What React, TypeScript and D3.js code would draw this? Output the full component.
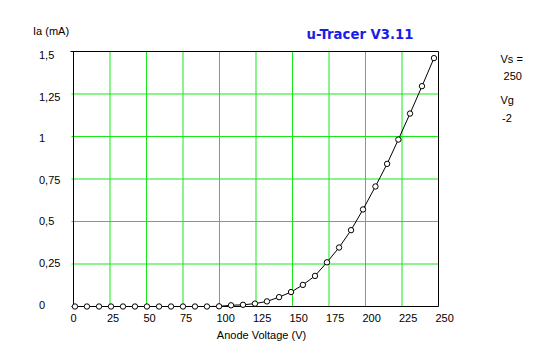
import React from "react";
import * as d3 from "d3";

const anodeVoltage = [
  1.0, 9.2, 17.5, 25.7, 33.9, 42.1, 50.3, 58.6, 66.8, 75.0, 83.2, 91.4, 99.7,
  107.9, 116.1, 124.3, 132.5, 140.8, 149.0, 157.1, 165.4, 173.6, 181.9, 190.1,
  198.3, 206.8, 214.8, 222.5, 230.5, 238.7, 246.9,
];
const anodeCurrent = [
  0, 0, 0, 0, 0, 0, 0, 0, 0, 0, 0, 0, 0.001,
  0.007, 0.01, 0.017, 0.03, 0.055, 0.085, 0.127, 0.18, 0.26, 0.347, 0.449,
  0.571, 0.706, 0.839, 0.982, 1.135, 1.296, 1.461,
];
const xTicks = [0, 25, 50, 75, 100, 125, 150, 175, 200, 225, 250];
const yTicks = [0, 0.25, 0.5, 0.75, 1, 1.25, 1.5];
const yTickLabels = ["0", "0,25", "0,5", "0,75", "1", "1,25", "1,5"];
const title = "u-Tracer V3.11";
const xTitle = "Anode Voltage (V)";
const yTitle = "Ia (mA)";
const sideLabels = ["Vs =", " 250", "Vg", "-2"];

const W = 547;
const H = 357;
const GREEN = "#18e818";
const FONT = "'Liberation Sans', Arial, sans-serif";

export default function App() {
  const x = d3.scaleLinear().domain([0, 250]).range([73.5, 438.5]);
  const y = d3.scaleLinear().domain([0, 1.5]).range([306.5, 51.5]);
  const yLabel = d3.scaleLinear().domain([0, 1.5]).range([308.5, 59]);
  const pts = anodeVoltage.map((v, i) => [v, anodeCurrent[i]] as [number, number]);
  const line = d3
    .line<[number, number]>()
    .x((d) => x(d[0]))
    .y((d) => y(d[1]));

  const sideY = [63, 80, 104, 122];
  const sideX = [500.5, 500.5, 500.5, 502];

  return (
    <svg
      width={W}
      height={H}
      style={{ position: "absolute", left: 0, top: 0, background: "#fff" }}
      fontFamily={FONT}
      fontSize={11}
    >
      <rect x={0} y={0} width={W} height={H} fill="#fff" />
      {/* grid */}
      {xTicks.slice(1, -1).map((t) => (
        <line key={"gx" + t} x1={x(t)} x2={x(t)} y1={y(1.5)} y2={y(0)} stroke={GREEN} strokeWidth={1} />
      ))}
      {yTicks.slice(1, -1).map((t) => (
        <line key={"gy" + t} x1={x(0) - 2} x2={x(250)} y1={y(t)} y2={y(t)} stroke={GREEN} strokeWidth={1} />
      ))}
      {/* frame */}
      <line x1={x(0) - 3} x2={x(250)} y1={y(1.5)} y2={y(1.5)} stroke="#000" />
      <line x1={x(250)} x2={x(250)} y1={y(1.5)} y2={y(0)} stroke="#000" />
      <line x1={x(0)} x2={x(0)} y1={y(1.5)} y2={y(0) + 1} stroke="#000" />
      <line x1={x(0) - 2} x2={x(250)} y1={y(0)} y2={y(0)} stroke="#000" />
      {/* tick labels */}
      {xTicks.map((t) => (
        <text key={"xl" + t} x={x(t) - 3} y={322} fill="#000">
          {t}
        </text>
      ))}
      {yTicks.map((t, i) => (
        <text key={"yl" + t} x={39} y={yLabel(t)} fill="#000">
          {yTickLabels[i]}
        </text>
      ))}
      {/* data */}
      <path d={line(pts) || ""} fill="none" stroke="#000" strokeWidth={1} />
      {pts.map((d, i) => (
        <circle key={"p" + i} cx={x(d[0])} cy={y(d[1])} r={2.7} fill="#fff" stroke="#000" strokeWidth={1} />
      ))}
      {/* titles */}
      <text x={33} y={34.5} fill="#000">
        {yTitle}
      </text>
      <text x={261.5} y={339} textAnchor="middle" fill="#000">
        {xTitle}
      </text>
      <text
        x={306.5}
        y={38.5}
        fill="#1c1ce6"
        fontFamily="'Comic Sans MS', 'DejaVu Sans', sans-serif"
        fontWeight="bold"
        fontSize={14.5}
        textLength={107}
        lengthAdjust="spacingAndGlyphs"
      >
        {title}
      </text>
      {sideLabels.map((s, i) => (
        <text key={"s" + i} x={sideX[i]} y={sideY[i]} fill="#000" xmlSpace="preserve">
          {s}
        </text>
      ))}
    </svg>
  );
}
